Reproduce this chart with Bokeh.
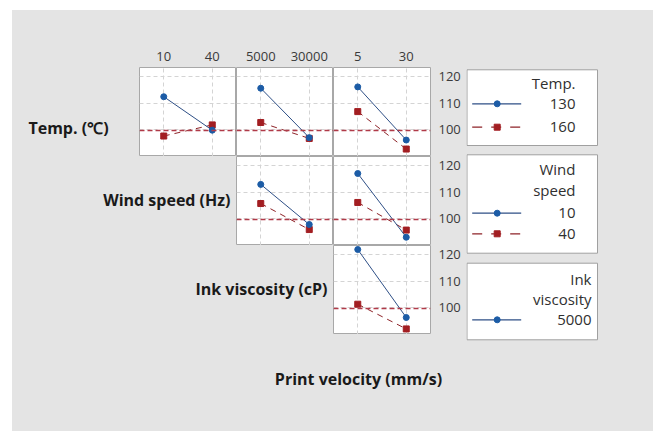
from bokeh.plotting import figure
from bokeh.layouts import row, column
from bokeh.models import Range1d, FactorRange, FixedTicker, Span, Label
from bokeh.embed import file_html
from bokeh.resources import INLINE

# ---------------- data ----------------
temp_levels = ["130", "160"]
wind_levels = ["10", "40"]
ink_levels = ["5000", "30000"]
vel_levels = ["5", "30"]

grand_mean = 99.7
y_ticks = [100, 110, 120]

# row 1: Temp. lines (130 blue, 160 red) vs the column factor
temp_vs_wind_130 = [112.4, 99.8]
temp_vs_wind_160 = [97.6, 101.8]
temp_vs_ink_130 = [115.6, 97.0]
temp_vs_ink_160 = [102.7, 96.7]
temp_vs_vel_130 = [116.1, 96.1]
temp_vs_vel_160 = [106.8, 92.7]
# row 2: Wind speed lines (10 blue, 40 red)
wind_vs_ink_10 = [112.9, 97.8]
wind_vs_ink_40 = [105.7, 95.9]
wind_vs_vel_10 = [117.0, 93.0]
wind_vs_vel_40 = [106.1, 95.7]
# row 3: Ink viscosity lines (5000 blue, 30000 red)
ink_vs_vel_5000 = [121.9, 96.3]
ink_vs_vel_30000 = [101.3, 92.0]

row_titles = ["Temp. (℃)", "Wind speed (Hz)", "Ink viscosity (cP)"]
x_title = "Print velocity (mm/s)"
legend_titles = [["Temp."], ["Wind", "speed"], ["Ink", "viscosity"]]

# ---------------- style ----------------
GRAY = "#e4e4e4"
BLUE = "#1c5ca6"
BLUE_LINE = "#2e4f86"
RED = "#a21e22"
RED_LINE = "#8e2328"
MEAN = "#b03a48"
FRAME = "#a8a8a8"
FONT = "Open Sans"
BG = {"background-color": GRAY}

PW, PH = 97, 89          # panel frame size
TOP = 57                 # space above first panel row
RIGHT = 36               # right-axis space
LEFT_W = 127             # label column width
BOTTOM_H = 97
LEG_W = 187
TOTAL_H = TOP + 3 * PH + BOTTOM_H


def panel(x_levels, blue_vals, red_vals, top_axis=False, right_axis=False):
    w = PW + (RIGHT if right_axis else 0)
    h = PH + (TOP if top_axis else 0)
    p = figure(width=w, height=h,
               x_range=FactorRange(*x_levels), y_range=Range1d(89.9, 123.4),
               x_axis_location="above" if top_axis else None,
               y_axis_location="right" if right_axis else None,
               toolbar_location=None, output_backend="svg",
               min_border_left=0, min_border_bottom=0,
               min_border_top=TOP if top_axis else 0,
               min_border_right=RIGHT if right_axis else 0,
               background_fill_color="white", border_fill_color=GRAY,
               outline_line_color=FRAME, outline_line_width=1)
    p.xgrid.grid_line_color = "#d4d4d4"
    p.xgrid.grid_line_dash = "4 3"
    p.ygrid.grid_line_color = "#d4d4d4"
    p.ygrid.grid_line_dash = "4 3"
    p.ygrid.ticker = FixedTicker(ticks=y_ticks)

    for ax in list(p.xaxis) + list(p.yaxis):
        ax.axis_line_color = None
        ax.major_tick_line_color = None
        ax.minor_tick_line_color = None
        ax.major_tick_out = 0
        ax.major_tick_in = 0
        ax.major_label_text_font = FONT
        ax.major_label_text_font_size = "13px"
        ax.major_label_text_color = "#3a3a3a"
    for ax in p.yaxis:
        ax.ticker = FixedTicker(ticks=y_ticks)
        ax.major_label_standoff = 8
    for ax in p.xaxis:
        ax.major_label_standoff = 7

    p.add_layout(Span(location=grand_mean, dimension="width", line_color=MEAN,
                      line_dash="5 3", line_width=1.4))
    p.line(x_levels, red_vals, line_color=RED_LINE, line_dash="6 5", line_width=1)
    p.scatter(x_levels, red_vals, marker="square", size=6,
              fill_color=RED, line_color=RED)
    p.line(x_levels, blue_vals, line_color=BLUE_LINE, line_width=1)
    p.scatter(x_levels, blue_vals, marker="circle", size=6,
              fill_color=BLUE, line_color=BLUE)
    return p


def blank(w, h):
    p = figure(width=w, height=h, x_range=Range1d(0, w), y_range=Range1d(h, 0),
               x_axis_location=None, y_axis_location=None,
               toolbar_location=None, output_backend="svg", min_border=0,
               outline_line_color=None, background_fill_color=GRAY,
               border_fill_color=GRAY)
    p.xgrid.visible = False
    p.ygrid.visible = False
    return p


def bold_label(p, x, y, text, align):
    p.add_layout(Label(x=x, y=y, text=text, text_align=align,
                       text_baseline="middle", text_font=FONT,
                       text_font_size="16px", text_font_style="bold",
                       text_color="#1a1a1a"))


# ---------------- panels ----------------
p11 = panel(wind_levels, temp_vs_wind_130, temp_vs_wind_160, top_axis=True)
p12 = panel(ink_levels, temp_vs_ink_130, temp_vs_ink_160, top_axis=True)
p13 = panel(vel_levels, temp_vs_vel_130, temp_vs_vel_160, top_axis=True, right_axis=True)
p22 = panel(ink_levels, wind_vs_ink_10, wind_vs_ink_40)
p23 = panel(vel_levels, wind_vs_vel_10, wind_vs_vel_40, right_axis=True)
p33 = panel(vel_levels, ink_vs_vel_5000, ink_vs_vel_30000, right_axis=True)

# ---------------- labels ----------------
l1 = blank(LEFT_W, TOP + PH)
bold_label(l1, 56, 99, row_titles[0], "center")
l2 = blank(LEFT_W + PW, PH)
bold_label(l2, 218, 43, row_titles[1], "right")
l3 = blank(LEFT_W + 2 * PW, PH)
bold_label(l3, 315, 43, row_titles[2], "right")
bottom = blank(LEFT_W + 3 * PW + RIGHT, BOTTOM_H)
bold_label(bottom, 346, 44, x_title, "center")

# ---------------- legends ----------------
g = blank(LEG_W, TOTAL_H)
box_top = [59.3, 144.3, 252.7]
box_bot = [135.0, 242.7, 329.3]
g.quad(left=[0.5, 0.5, 0.5], right=[131, 131, 131], top=box_top, bottom=box_bot,
       fill_color="white", line_color="#a0a0a0", line_width=1)

legend_specs = [
    (legend_titles[0], [72.7], temp_levels, [93.3, 116.7], 109),
    (legend_titles[1], [158.3, 179.3], wind_levels, [202.7, 223.3], 109),
    (legend_titles[2], [268.3, 288.3], ink_levels[:1], [309.3], 125),
]
for title_lines, title_ys, levels, item_ys, xr in legend_specs:
    for t, ty in zip(title_lines, title_ys):
        g.add_layout(Label(x=xr, y=ty, text=t, text_align="right",
                           text_baseline="middle", text_font=FONT,
                           text_font_size="15px", text_color="#303030"))
    for i, (lev, iy) in enumerate(zip(levels, item_ys)):
        g.add_layout(Label(x=xr, y=iy, text=lev, text_align="right",
                           text_baseline="middle", text_font=FONT,
                           text_font_size="15px", text_color="#303030"))
        if i == 0:
            g.line([5.7, 54.7], [iy, iy], line_color=BLUE_LINE, line_width=1.2)
            g.scatter([30.7], [iy], marker="circle", size=6, fill_color=BLUE,
                      line_color=BLUE)
        else:
            g.line([5.7, 54.7], [iy, iy], line_color=RED_LINE, line_width=1.2,
                   line_dash="10 9")
            g.scatter([30.7], [iy], marker="square", size=6, fill_color=RED,
                      line_color=RED)

left = column(
    row(l1, p11, p12, p13, styles=BG),
    row(l2, p22, p23, styles=BG),
    row(l3, p33, styles=BG),
    bottom,
    styles=BG,
)
root = row(left, g, margin=(10, 0, 0, 12), styles=BG)

open("out.html", "w").write(file_html(root, INLINE))
